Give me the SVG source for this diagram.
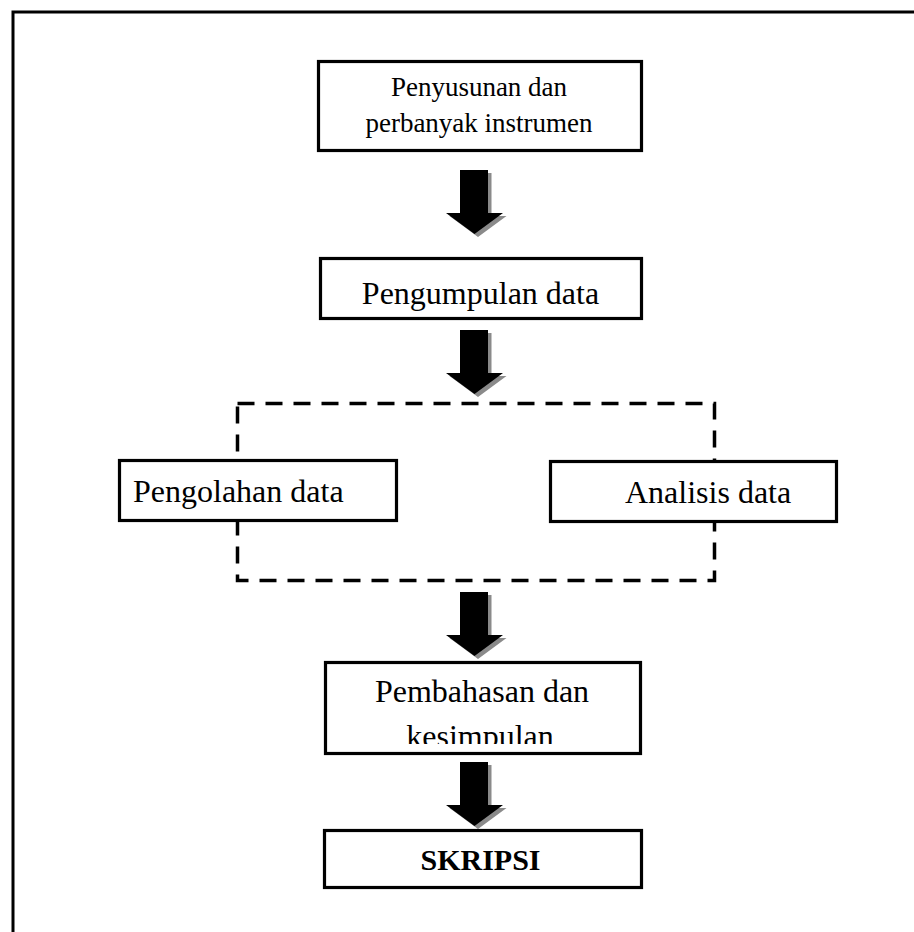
<svg xmlns="http://www.w3.org/2000/svg" width="914" height="932" viewBox="0 0 914 932">
<defs>
<style>
.box{fill:#fff;stroke:#000;stroke-width:3.2}
.t{font-family:"Liberation Serif","Times New Roman",serif;fill:#000;text-anchor:middle}
.arr{fill:#000}
.sh{fill:#8a8a8a}
</style>
<polygon id="arrow" points="460,0 488,0 488,43 503,43 474.5,64 446,43 460,43"/>
<clipPath id="c4"><rect x="320" y="660" width="325" height="84"/></clipPath>
</defs>
<rect width="914" height="932" fill="#fff"/>
<rect x="13" y="12" width="1000" height="1000" fill="none" stroke="#000" stroke-width="3"/>
<g id="connectors">
<use href="#arrow" class="sh" transform="translate(3.5,173)"/>
<use href="#arrow" class="arr" transform="translate(0,170)"/>
<use href="#arrow" class="sh" transform="translate(3.5,333)"/>
<use href="#arrow" class="arr" transform="translate(0,330)"/>
<use href="#arrow" class="sh" transform="translate(3.5,595)"/>
<use href="#arrow" class="arr" transform="translate(0,592)"/>
<use href="#arrow" class="sh" transform="translate(3.5,765)"/>
<use href="#arrow" class="arr" transform="translate(0,762)"/>
</g>
<g id="group-dashed">
<rect x="237.5" y="403.5" width="477" height="177" fill="none" stroke="#000" stroke-width="3.5" stroke-dasharray="17 11"/>
</g>
<g id="n1">
<rect class="box" x="318.5" y="61.5" width="323" height="89"/>
<text class="t" x="479" y="96" font-size="27">Penyusunan dan</text>
<text class="t" x="479" y="132" font-size="27">perbanyak instrumen</text>
</g>
<g id="n2">
<rect class="box" x="320.5" y="258.5" width="321" height="60"/>
<text class="t" x="480.5" y="304" font-size="32">Pengumpulan data</text>
</g>
<g id="n3">
<rect class="box" x="119.5" y="460.5" width="277" height="60"/>
<text x="133" y="502" font-size="32" font-family="Liberation Serif, Times New Roman, serif">Pengolahan data</text>
</g>
<g id="n4">
<rect class="box" x="550.5" y="461.5" width="286" height="60"/>
<text x="625" y="503" font-size="32" font-family="Liberation Serif, Times New Roman, serif">Analisis data</text>
</g>
<g id="n5">
<rect class="box" x="325.5" y="662.5" width="315" height="91"/>
<text class="t" x="482" y="702" font-size="32">Pembahasan dan</text>
<text class="t" x="480" y="747" font-size="32" clip-path="url(#c4)">kesimpulan</text>
</g>
<g id="n6">
<rect class="box" x="324.5" y="830.5" width="317" height="57"/>
<text class="t" x="480.5" y="870" font-size="30" font-weight="bold">SKRIPSI</text>
</g>
</svg>
